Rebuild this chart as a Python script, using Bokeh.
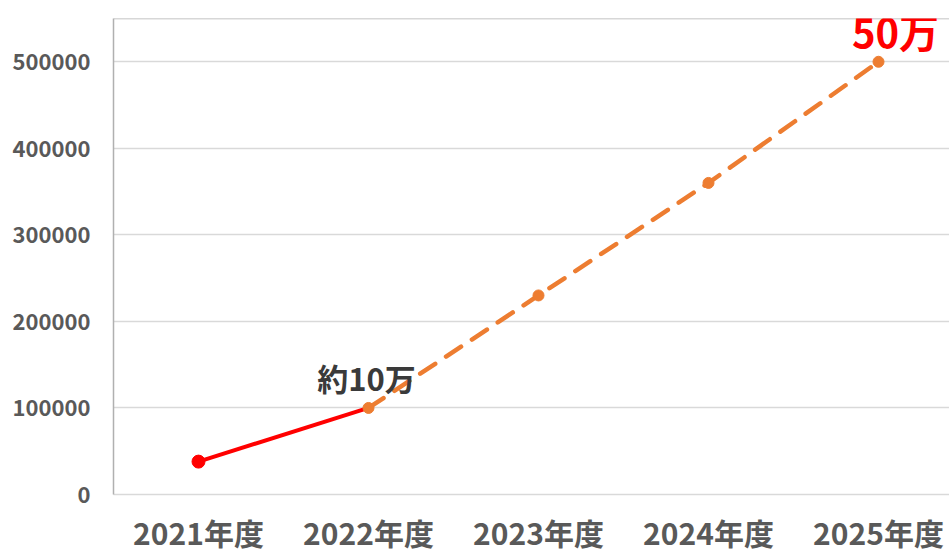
from bokeh.plotting import figure
from bokeh.models import Range1d, FixedTicker, Span, ColumnDataSource, LabelSet
from bokeh.core.properties import value
from bokeh.embed import file_html
from bokeh.resources import INLINE

# ---- data ----
categories = ["2021年度", "2022年度", "2023年度", "2024年度", "2025年度"]
values = [38000, 100000, 230000, 360000, 500000]
actual_count = 2          # 2021-2022 actual (solid red)
y_ticks = [0, 100000, 200000, 300000, 400000, 500000]
label_texts = ["約10万", "50万"]
label_index = [1, 4]

xs = list(range(len(categories)))

FONT = "Noto Sans CJK JP"
W, H = 949, 556
LEFT = 113

p = figure(width=W, height=H, output_backend="svg", toolbar_location=None,
           x_range=Range1d(-0.5, -0.5 + (W - LEFT) / 170.0),
           y_range=Range1d(0, 550000),
           min_border_left=LEFT, min_border_right=0,
           min_border_top=18, min_border_bottom=62)
p.background_fill_color = "white"
p.border_fill_color = "white"
p.outline_line_color = None

# axes
p.xaxis.ticker = FixedTicker(ticks=xs)
p.xaxis.major_label_overrides = {i: c for i, c in zip(xs, categories)}
p.yaxis.ticker = FixedTicker(ticks=y_ticks)
p.yaxis.formatter.use_scientific = False
for ax in (p.xaxis, p.yaxis):
    ax.major_tick_line_color = None
    ax.minor_tick_line_color = None
    ax.major_tick_out = 0
    ax.major_tick_in = 0
    ax.major_label_text_font = FONT
    ax.major_label_text_font_style = "bold"
    ax.major_label_text_color = "#595959"
p.xaxis.major_label_text_font_size = "30px"
p.yaxis.major_label_text_font_size = "22px"
p.xaxis.major_label_standoff = 15
p.yaxis.major_label_standoff = 23
p.xaxis.axis_line_color = "#d9d9d9"
p.xaxis.axis_line_width = 1.5
p.yaxis.axis_line_color = "#b0b0b0"
p.yaxis.axis_line_width = 1.5

p.xgrid.grid_line_color = None
p.ygrid.grid_line_color = "#d9d9d9"
p.ygrid.grid_line_width = 1.5

p.add_layout(Span(location=550000, dimension="width", line_color="#b0b0b0", line_width=1.5))

# actual (solid red)
p.line(xs[:actual_count], values[:actual_count], line_color="#ff0000", line_width=4)
# projection (dashed orange)
p.line(xs[actual_count - 1:], values[actual_count - 1:], line_color="#ed7d31",
       line_width=4.5, line_dash="18 13", line_cap="round")
p.scatter(xs[:actual_count - 1], values[:actual_count - 1], size=13,
          fill_color="#ff0000", line_color="#ff0000")
p.scatter(xs[actual_count - 1:], values[actual_count - 1:], size=11,
          fill_color="#ed7d31", line_color="#ed7d31")

# data labels (annotations, so they may extend above the frame)
src1 = ColumnDataSource(dict(x=[xs[label_index[0]]], y=[values[label_index[0]]],
                             t=[label_texts[0]]))
src2 = ColumnDataSource(dict(x=[xs[label_index[1]]], y=[values[label_index[1]]],
                             t=[label_texts[1]]))
p.add_layout(LabelSet(x="x", y="y", text="t", source=src1,
                      text_font=value(FONT), text_font_style="bold", text_font_size="31px",
                      text_color="#3a3a3a", text_align="center", text_baseline="middle",
                      x_offset=-2, y_offset=30))
p.add_layout(LabelSet(x="x", y="y", text="t", source=src2,
                      text_font=value(FONT), text_font_style="bold", text_font_size="40px",
                      text_color="#ff0000", text_align="center", text_baseline="middle",
                      x_offset=17, y_offset=31))

open("out.html", "w").write(file_html(p, INLINE))
